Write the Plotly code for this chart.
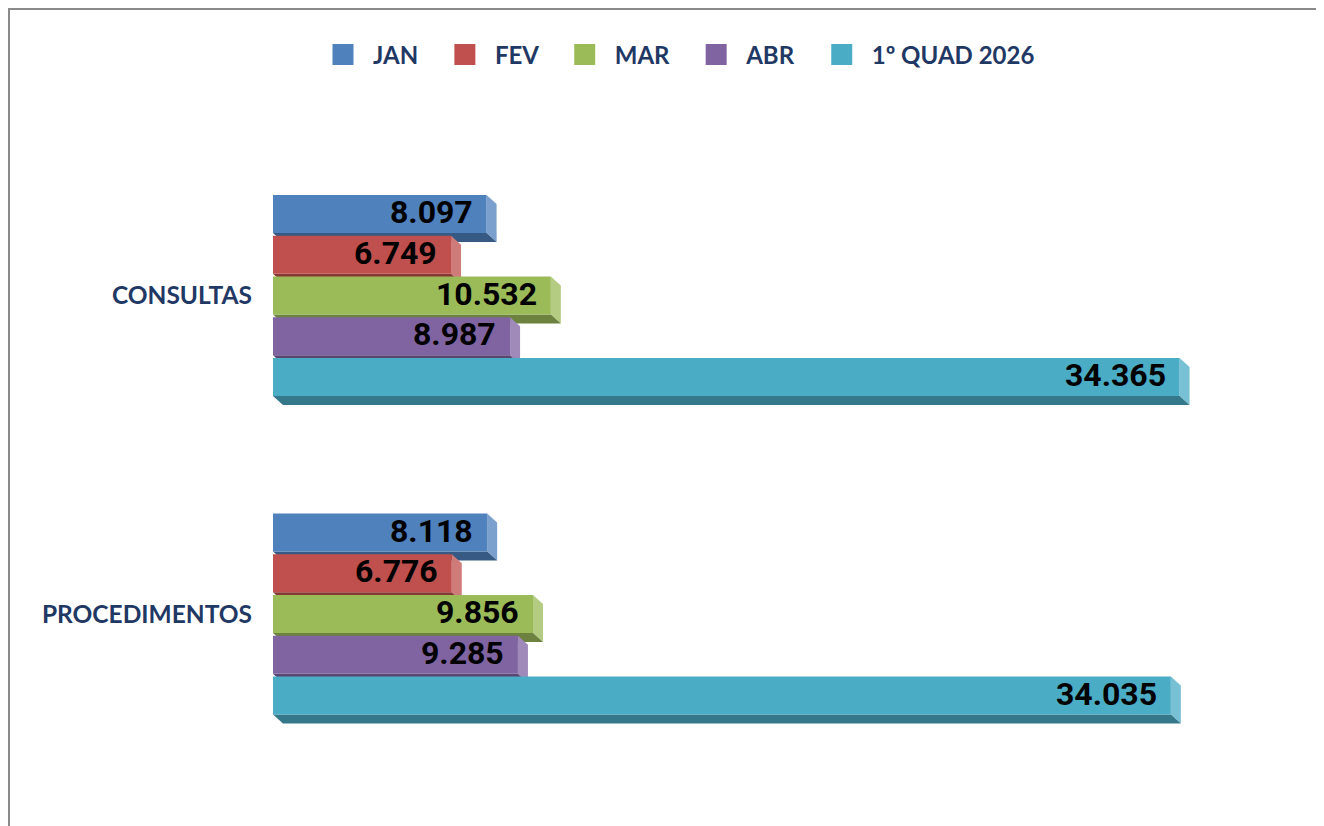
import plotly.graph_objects as go

# ---- data ----
categories = ["CONSULTAS", "PROCEDIMENTOS"]
series_names = ["JAN", "FEV", "MAR", "ABR", "1º QUAD 2026"]
jan = [8097, 8118]
fev = [6749, 6776]
mar = [10532, 9856]
abr = [8987, 9285]
quad = [34365, 34035]
series_values = [jan, fev, mar, abr, quad]
colors = ["#4F81BD", "#C0504D", "#9BBB59", "#8064A2", "#4BACC6"]

NAVY = "#1F3864"


def shade(hex_color, f):
    h = hex_color.lstrip("#")
    r, g, b = (int(h[i:i + 2], 16) for i in (0, 2, 4))
    if f >= 0:  # lighten toward white
        r, g, b = (int(c + (255 - c) * f) for c in (r, g, b))
    else:  # darken
        r, g, b = (int(c * (1 + f)) for c in (r, g, b))
    return "#{:02x}{:02x}{:02x}".format(r, g, b)


def fmt(v):
    return "{:,}".format(v).replace(",", ".")


# ---- layout geometry (figure sits 8px in from the page corner) ----
W, H = 1316, 818
ML, MR, MT, MB = 265, 48, 92, 26
plot_w = W - ML - MR
plot_h = H - MT - MB
px_per_x = 0.02638            # pixels per value unit
xmax = plot_w / px_per_x
group_px = 318.5              # pixels between category centres
first_center_px = 287.5
ymin = -(first_center_px - MT) / group_px
ymax = ymin + plot_h / group_px
slot = 40.75 / group_px
bar_w = 38.0 / group_px
dx = 10.0 / px_per_x          # 3D depth
dy = 9.0 / group_px
n = len(series_names)

fig = go.Figure()
shapes = []
annotations = []

for j, (name, vals, col) in enumerate(zip(series_names, series_values, colors)):
    ys = [i + (j - (n - 1) / 2) * slot for i in range(len(categories))]
    fig.add_trace(go.Bar(
        x=vals, y=ys, orientation="h", width=bar_w,
        marker=dict(color=col, line=dict(width=0)),
        name=name, showlegend=False,
        hovertext=[f"{c}: {fmt(v)}" for c, v in zip(categories, vals)],
        hoverinfo="text",
    ))
    # legend entry
    fig.add_trace(go.Scatter(
        x=[None], y=[None], mode="markers",
        name=name + "\u00a0\u00a0",
        marker=dict(symbol="square", size=16, color=col,
                    line=dict(width=5, color=col)),
        showlegend=True, hoverinfo="skip",
    ))
    light = shade(col, 0.25)
    dark = shade(col, -0.30)
    for v, y in zip(vals, ys):
        top = y - bar_w / 2
        bot = y + bar_w / 2
        shapes.append(dict(
            type="path", xref="x", yref="y", layer="below",
            path=f"M {v},{top} L {v + dx},{top + dy} L {v + dx},{bot + dy} L {v},{bot} Z",
            fillcolor=light, line=dict(width=0)))
        shapes.append(dict(
            type="path", xref="x", yref="y", layer="below",
            path=f"M 0,{bot} L {v},{bot} L {v + dx},{bot + dy} L {dx},{bot + dy} Z",
            fillcolor=dark, line=dict(width=0)))
        annotations.append(dict(
            x=v, y=y, xref="x", yref="y", text=fmt(v), showarrow=False,
            xanchor="right", yanchor="middle", xshift=-12, yshift=2,
            font=dict(family="Roboto", size=32, color="black", weight="bold")))

# outer frame (top and left edges visible in the picture)
shapes.append(dict(
    type="rect", xref="paper", yref="paper", layer="above",
    x0=(1 - ML) / plot_w, x1=(W + 10 - ML) / plot_w,
    y0=(H - MB - (H + 10)) / plot_h, y1=(H - MB - 1) / plot_h,
    line=dict(color="#8a8a8a", width=2), fillcolor="rgba(0,0,0,0)"))

fig.update_layout(
    width=W, height=H,
    margin=dict(l=ML, r=MR, t=MT, b=MB),
    paper_bgcolor="white", plot_bgcolor="white",
    barmode="overlay",
    showlegend=True,
    legend=dict(
        orientation="h", x=(305 - ML) / plot_w, xanchor="left",
        y=(H - MB - 47) / plot_h, yanchor="middle",
        font=dict(family="Lato", size=24, color=NAVY, weight="bold"),
        itemsizing="trace", traceorder="normal", itemwidth=50,
    ),
    xaxis=dict(visible=False, range=[0, xmax]),
    yaxis=dict(
        range=[ymax, ymin], tickvals=list(range(len(categories))),
        ticktext=categories, showgrid=False, zeroline=False, showline=False,
        ticks="", ticklabelstandoff=20,
        tickfont=dict(family="Lato", size=24.5, color=NAVY, weight="bold"),
    ),
    shapes=shapes,
    annotations=annotations,
)

fig.write_html("out.html")
